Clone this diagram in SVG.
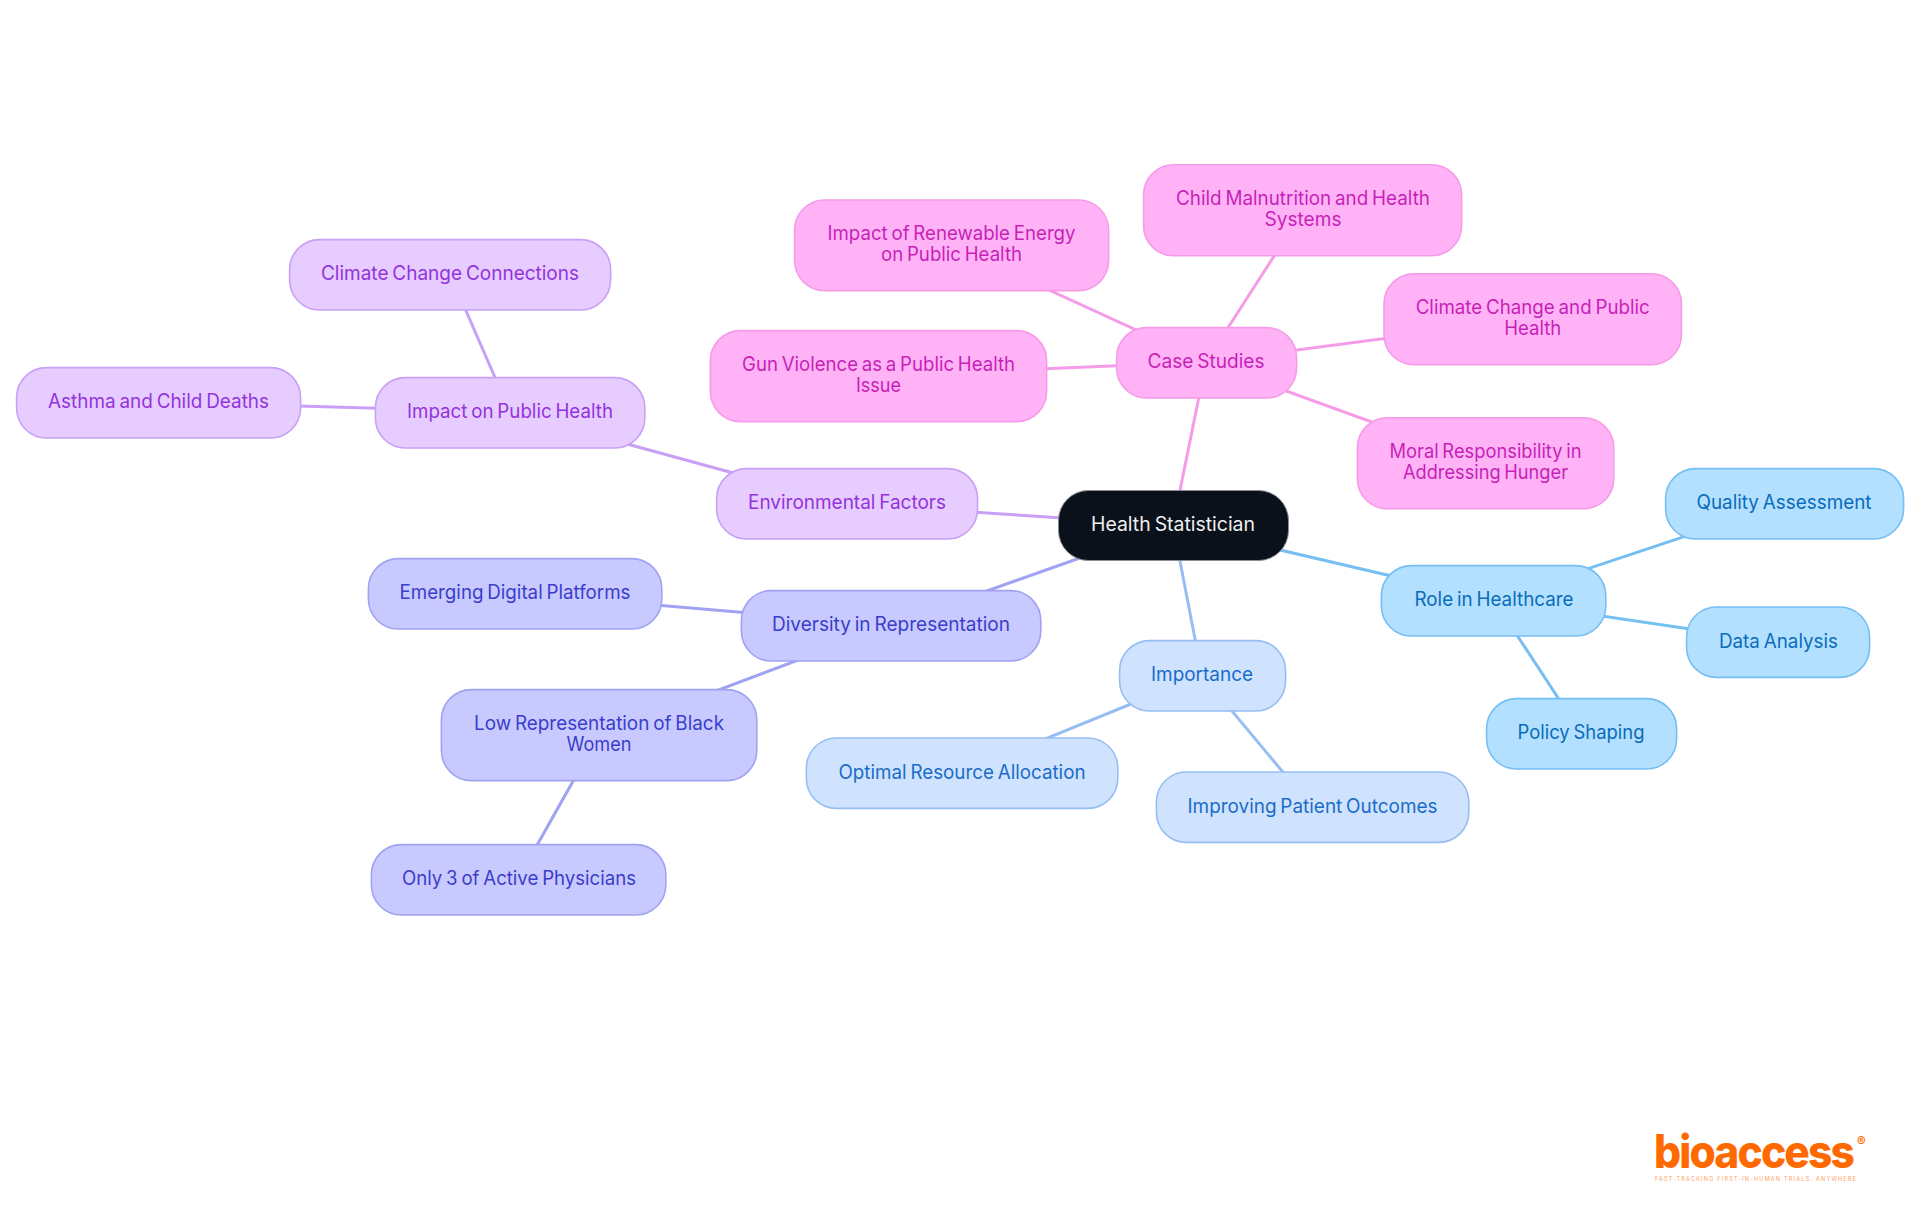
<svg xmlns="http://www.w3.org/2000/svg" width="1920" height="1215" viewBox="0 0 1920 1215">
<style>
text{font-family:"Inter","Liberation Sans",sans-serif;font-size:19.5px;font-weight:385;text-anchor:middle;word-spacing:-1.5px}
.e{stroke-width:3;fill:none}
.n{stroke-width:1.6}
.pk .n{fill:#ffb3f6;stroke:#f59be8}.pk text{fill:#c71fb8}
.pu .n{fill:#e6ccff;stroke:#c9a0f5}.pu text{fill:#9333dc}
.in .n{fill:#c8caff;stroke:#a0a2f2}.in text{fill:#3a3dcb}
.lb .n{fill:#cfe3ff;stroke:#97bef2}.lb text{fill:#1a6cc9}
.sk .n{fill:#b3e0ff;stroke:#76bff2}.sk text{fill:#0a6cba}
</style>
<rect width="1920" height="1215" fill="#fff"/>
<g id="connectors">
<g class="e" stroke="#f59be8">
<line x1="1173" y1="525" x2="1206" y2="362"/><line x1="1206" y1="362" x2="951" y2="245"/><line x1="1206" y1="362" x2="1303" y2="211"/><line x1="1206" y1="362" x2="1533" y2="319"/><line x1="1206" y1="362" x2="1485" y2="463"/><line x1="1206" y1="362" x2="878" y2="376"/>
</g>
<g class="e" stroke="#c9a0f5">
<line x1="1173" y1="525" x2="847" y2="504"/><line x1="847" y1="504" x2="510" y2="412"/><line x1="510" y1="412" x2="450" y2="274"/><line x1="510" y1="412" x2="158" y2="402"/>
</g>
<g class="e" stroke="#a0a2f2">
<line x1="1173" y1="525" x2="891" y2="625"/><line x1="891" y1="625" x2="515" y2="593"/><line x1="891" y1="625" x2="599" y2="735"/><line x1="599" y1="735" x2="518" y2="879"/>
</g>
<g class="e" stroke="#97bef2">
<line x1="1173" y1="525" x2="1202" y2="675"/><line x1="1202" y1="675" x2="962" y2="773"/><line x1="1202" y1="675" x2="1312" y2="807"/>
</g>
<g class="e" stroke="#76bff2">
<line x1="1173" y1="525" x2="1494" y2="600"/><line x1="1494" y1="600" x2="1785" y2="503"/><line x1="1494" y1="600" x2="1778" y2="642"/><line x1="1494" y1="600" x2="1581" y2="733"/>
</g>
</g>
<g id="root"><rect x="1058.5" y="490.5" width="230" height="70" rx="30" fill="#0b111a" stroke="#8a8d92" stroke-width="1"/><text x="1173" y="531" fill="#eeeff0" textLength="164" lengthAdjust="spacingAndGlyphs">Health Statistician</text></g>

<g class="pk">
<g id="case-studies"><rect class="n" x="1116.6" y="327.6" width="180" height="70.4" rx="30"/><text x="1206" y="368" textLength="117" lengthAdjust="spacingAndGlyphs">Case Studies</text></g>
<g id="renewable"><rect class="n" x="794.6" y="200" width="314" height="90.6" rx="30"/><text x="951.5" y="240" textLength="248" lengthAdjust="spacingAndGlyphs">Impact of Renewable Energy</text><text x="951.5" y="261" textLength="141" lengthAdjust="spacingAndGlyphs">on Public Health</text></g>
<g id="child"><rect class="n" x="1143.6" y="164.8" width="318" height="91" rx="30"/><text x="1303" y="205" textLength="254" lengthAdjust="spacingAndGlyphs">Child Malnutrition and Health</text><text x="1303" y="226" textLength="77" lengthAdjust="spacingAndGlyphs">Systems</text></g>
<g id="climate-ph"><rect class="n" x="1384" y="273.8" width="297.4" height="91" rx="30"/><text x="1532.7" y="314" textLength="234" lengthAdjust="spacingAndGlyphs">Climate Change and Public</text><text x="1532.7" y="335" textLength="57" lengthAdjust="spacingAndGlyphs">Health</text></g>
<g id="moral"><rect class="n" x="1357.4" y="417.8" width="256.4" height="91" rx="30"/><text x="1485.5" y="458" textLength="192" lengthAdjust="spacingAndGlyphs">Moral Responsibility in</text><text x="1485.5" y="479" textLength="165" lengthAdjust="spacingAndGlyphs">Addressing Hunger</text></g>
<g id="gun"><rect class="n" x="710.4" y="330.6" width="336.2" height="91" rx="30"/><text x="878.5" y="371" textLength="273" lengthAdjust="spacingAndGlyphs">Gun Violence as a Public Health</text><text x="878.5" y="392" textLength="45" lengthAdjust="spacingAndGlyphs">Issue</text></g>
</g>

<g class="pu">
<g id="environmental"><rect class="n" x="716.6" y="468.6" width="261" height="70.4" rx="30"/><text x="847" y="509" textLength="198" lengthAdjust="spacingAndGlyphs">Environmental Factors</text></g>
<g id="impact"><rect class="n" x="375.4" y="377.6" width="269.4" height="70.4" rx="30"/><text x="510" y="418" textLength="206" lengthAdjust="spacingAndGlyphs">Impact on Public Health</text></g>
<g id="climate-conn"><rect class="n" x="289.6" y="239.6" width="321" height="70.4" rx="30"/><text x="450" y="280" textLength="258" lengthAdjust="spacingAndGlyphs">Climate Change Connections</text></g>
<g id="asthma"><rect class="n" x="16.6" y="367.6" width="284" height="70.4" rx="30"/><text x="158.5" y="408" textLength="221" lengthAdjust="spacingAndGlyphs">Asthma and Child Deaths</text></g>
</g>

<g class="in">
<g id="diversity"><rect class="n" x="741.4" y="590.6" width="299.4" height="70.4" rx="30"/><text x="891" y="631" textLength="238" lengthAdjust="spacingAndGlyphs">Diversity in Representation</text></g>
<g id="emerging"><rect class="n" x="368.4" y="558.6" width="293.4" height="70.4" rx="30"/><text x="515" y="599" textLength="231" lengthAdjust="spacingAndGlyphs">Emerging Digital Platforms</text></g>
<g id="low-rep"><rect class="n" x="441.4" y="689.6" width="315.4" height="91" rx="30"/><text x="599" y="730" textLength="250" lengthAdjust="spacingAndGlyphs">Low Representation of Black</text><text x="599" y="751" textLength="65" lengthAdjust="spacingAndGlyphs">Women</text></g>
<g id="only-3"><rect class="n" x="371.4" y="844.6" width="294.4" height="70.4" rx="30"/><text x="519" y="885" textLength="234" lengthAdjust="spacingAndGlyphs">Only 3 of Active Physicians</text></g>
</g>

<g class="lb">
<g id="importance"><rect class="n" x="1119.6" y="640.6" width="166" height="70.4" rx="30"/><text x="1202" y="681" textLength="102" lengthAdjust="spacingAndGlyphs">Importance</text></g>
<g id="optimal"><rect class="n" x="806.4" y="738" width="311.4" height="70.4" rx="30"/><text x="962" y="779" textLength="247" lengthAdjust="spacingAndGlyphs">Optimal Resource Allocation</text></g>
<g id="improving"><rect class="n" x="1156.4" y="772" width="312.4" height="70.4" rx="30"/><text x="1312.5" y="813" textLength="250" lengthAdjust="spacingAndGlyphs">Improving Patient Outcomes</text></g>
</g>

<g class="sk">
<g id="role"><rect class="n" x="1381.4" y="565.6" width="224.4" height="70.4" rx="30"/><text x="1494" y="606" textLength="159" lengthAdjust="spacingAndGlyphs">Role in Healthcare</text></g>
<g id="quality"><rect class="n" x="1665.6" y="468.6" width="238" height="70.4" rx="30"/><text x="1784" y="509" textLength="175" lengthAdjust="spacingAndGlyphs">Quality Assessment</text></g>
<g id="data"><rect class="n" x="1686.6" y="607" width="183" height="70.4" rx="30"/><text x="1778.5" y="648" textLength="119" lengthAdjust="spacingAndGlyphs">Data Analysis</text></g>
<g id="policy"><rect class="n" x="1486.6" y="698.6" width="190" height="70.4" rx="30"/><text x="1581" y="739" textLength="127" lengthAdjust="spacingAndGlyphs">Policy Shaping</text></g>
</g>

<g id="logo" fill="#ff6a00">
<text x="1654" y="1168" style="text-anchor:start;font-size:46px;font-weight:800;word-spacing:0;letter-spacing:-2px" textLength="199" lengthAdjust="spacingAndGlyphs">bioaccess</text>
<text x="1857" y="1146" style="text-anchor:start;font-size:13px;font-weight:700;word-spacing:0">®</text>
<text x="1655" y="1181" style="text-anchor:start;font-size:5.5px;font-weight:400;opacity:.65;word-spacing:0" textLength="201" lengthAdjust="spacing">FAST-TRACKING FIRST-IN-HUMAN TRIALS, ANYWHERE</text>
</g>
</svg>
